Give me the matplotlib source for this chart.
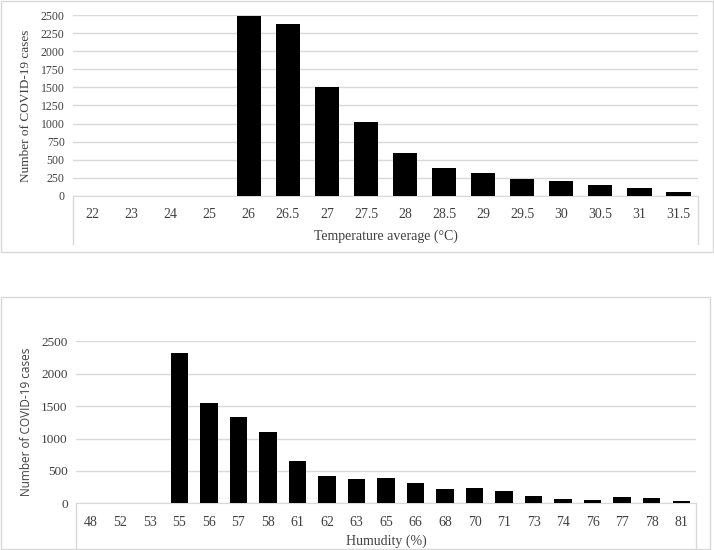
import matplotlib
matplotlib.use("Agg")
import matplotlib.pyplot as plt
from matplotlib.patches import Rectangle

# temperature chart data
temp_labels = ['22', '23', '24', '25', '26', '26.5', '27', '27.5', '28', '28.5',
               '29', '29.5', '30', '30.5', '31', '31.5']
temp_cases = [0, 0, 0, 0, 2480, 2370, 1500, 1020, 590, 387, 313, 235, 211, 152, 115, 51]

# humidity chart data
hum_labels = ['48', '52', '53', '55', '56', '57', '58', '61', '62', '63', '65',
              '66', '68', '70', '71', '73', '74', '76', '77', '78', '81']
hum_cases = [0, 10, 0, 2315, 1552, 1327, 1100, 653, 417, 370, 390, 318, 216,
             231, 190, 117, 62, 46, 102, 77, 31]

W, H = 714, 550
GRID = '#d9d9d9'
TXT = '#404040'
SERIF = ['Liberation Serif', 'DejaVu Serif']

fig = plt.figure(figsize=(W / 100, H / 100), dpi=100)

# outer chart frames (pixel boxes: x0, y0 from top, x1, y1)
for x0, y0, x1, y1 in [(1, 1, 713, 252), (1, 297, 710, 549)]:
    fig.patches.append(Rectangle((x0 / W, (H - y1) / H), (x1 - x0) / W, (y1 - y0) / H,
                                 transform=fig.transFigure, fill=False,
                                 edgecolor=GRID, lw=1))


def draw(ax, labels, values, width, yticks, xlabel, ylabel, ylabel_font, sizes, drop, xpad):
    xs, ys, xl, yl = sizes
    x = range(len(labels))
    ax.bar(x, values, width=width, color='black', zorder=3)
    ax.set_xlim(-0.5, len(labels) - 0.5)
    ax.set_ylim(0, yticks[-1])
    ax.set_yticks(yticks)
    ax.set_yticklabels([str(v) for v in yticks], family=SERIF, fontsize=ys, color=TXT)
    ax.set_xticks(list(x))
    ax.set_xticklabels(labels, family=SERIF, fontsize=xs, color=TXT)
    ax.tick_params(length=0, pad=9)
    ax.tick_params(axis='y', pad=6)
    ax.grid(axis='y', color=GRID, lw=1, zorder=0)
    for s in ['top', 'right', 'left']:
        ax.spines[s].set_visible(False)
    ax.spines['bottom'].set_color(GRID)
    # category box lines under the axis
    for xx in (0, 1):
        ax.plot([xx, xx], [0, -drop], transform=ax.transAxes, color=GRID,
                lw=1, clip_on=False)
    ax.set_xlabel(xlabel, family=SERIF, fontsize=xl, color=TXT, labelpad=xpad)
    ax.set_ylabel(ylabel, family=ylabel_font, fontsize=yl, color=TXT, labelpad=6)


ax1 = fig.add_axes([73 / W, (H - 196) / H, (698 - 73) / W, 181 / H])
draw(ax1, temp_labels, temp_cases, 0.62, list(range(0, 2501, 250)),
     'Temperature average (°C)', 'Number of COVID-19 cases', SERIF,
     (10, 8.5, 10, 9.5), 48 / 181, 6)

ax2 = fig.add_axes([76 / W, (H - 503.3) / H, (696 - 76) / W, 162 / H])
draw(ax2, hum_labels, hum_cases, 0.59, list(range(0, 2501, 500)),
     'Humudity (%)', 'Number of COVID-19 cases', ['Open Sans', 'DejaVu Sans'],
     (10, 9.5, 10, 8.5), 47 / 162, 4)

fig.savefig('out.png', dpi=100)
